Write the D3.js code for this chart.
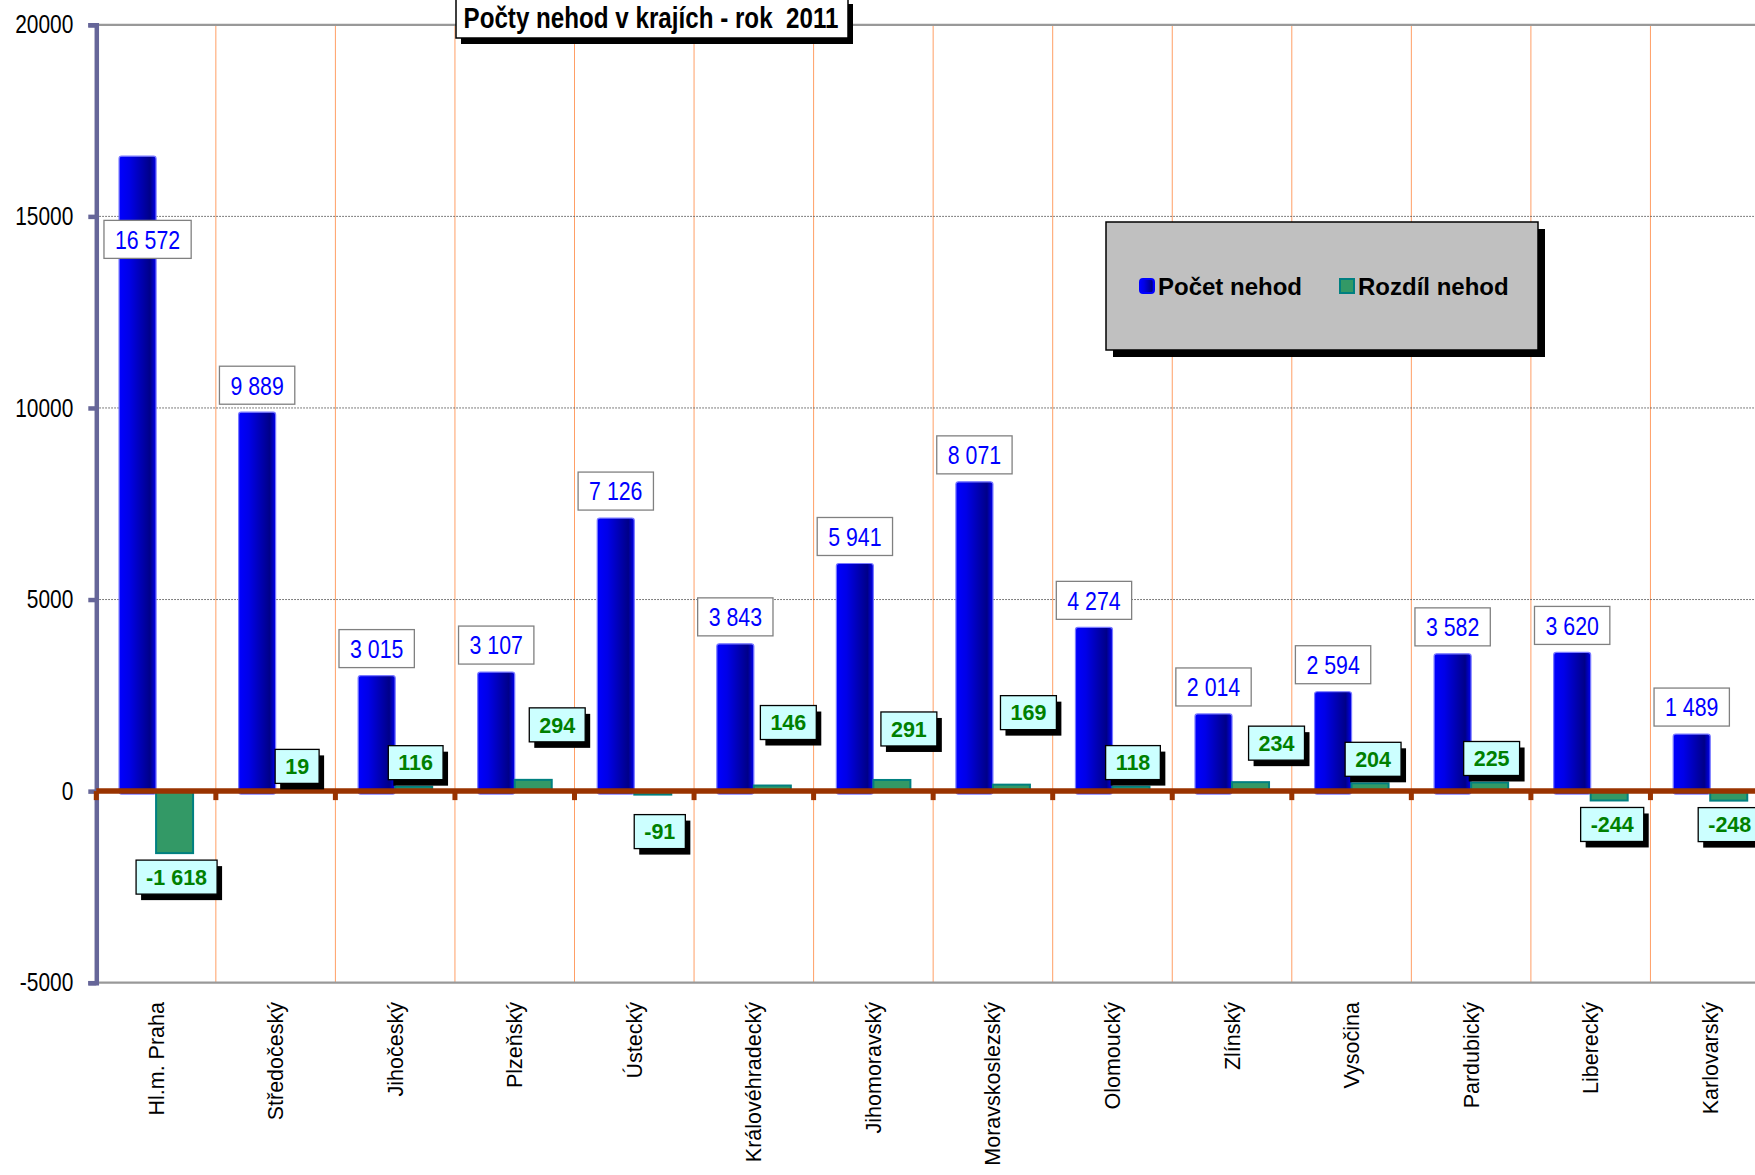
<!DOCTYPE html>
<html>
<head>
<meta charset="utf-8">
<script src="https://cdn.jsdelivr.net/npm/d3@7"></script>
<style>
  html, body { margin: 0; padding: 0; background: #fff; }
  svg { display: block; }
  text { font-family: "Liberation Sans", Arial, sans-serif; }
</style>
</head>
<body>
<svg id="chart" width="1755" height="1175"></svg>
<script>
// ---------------- DATA ----------------
const categories = ["Hl.m. Praha", "Středočeský", "Jihočeský", "Plzeňský", "Ústecký",
  "Královéhradecký", "Jihomoravský", "Moravskoslezský", "Olomoucký", "Zlínský",
  "Vysočina", "Pardubický", "Liberecký", "Karlovarský"];
const pocetNehod = [16572, 9889, 3015, 3107, 7126, 3843, 5941, 8071, 4274, 2014, 2594, 3582, 3620, 1489];
const rozdilNehod = [-1618, 19, 116, 294, -91, 146, 291, 169, 118, 234, 204, 225, -244, -248];
const yTicks = [-5000, 0, 5000, 10000, 15000, 20000];
const seriesNames = ["Počet nehod", "Rozdíl nehod"];
const titleText = "Počty nehod v krajích - rok  2011";

// ---------------- LAYOUT (manually placed data labels, px) ----------------
const countLabelDx = [10, 0, 0, 0, 0, 0, 0, 0, 0, 0, 0, 0, 0, 0];
const diffLabelGap = [24, 24, 24, 55, 37, 63, 51, 72, 24, 39, 24, 24, 24, 24];
const diffLabelDx  = [2, 3, 2, 24, 7, 16, 17, 17, 2, 26, 3, 2, 3, 1];

const NARROW = 0.82; // horizontal condensing to imitate Arial Narrow

const svg = d3.select("#chart");
const W = 1755, H = 1175;
svg.append("rect").attr("width", W).attr("height", H).attr("fill", "#fff");

const x0 = 96.3, step = 119.55;
const x = d3.scaleBand().domain(categories).range([x0, x0 + step * categories.length]).padding(0);
const xs = d3.scaleBand().domain(["p", "r"]).range([0, x.bandwidth()]).paddingInner(0).paddingOuter(0.615);
const y = d3.scaleLinear().domain([-5000, 20000]).range([982.7, 24.8]);

const loc = d3.formatLocale({ decimal: ",", thousands: " ", grouping: [3], currency: ["", ""], minus: "-" });
const fmt = loc.format(",d");
const fmtTick = loc.format("d");

const defs = svg.append("defs");
const g1 = defs.append("linearGradient").attr("id", "blueGrad").attr("x1", "0").attr("x2", "1").attr("y1", "0").attr("y2", "0");
[["0%", "#0000ff"], ["28%", "#0000e8"], ["84%", "#000088"], ["90%", "#0000b0"], ["100%", "#0000f0"]]
  .forEach(([o, c]) => g1.append("stop").attr("offset", o).attr("stop-color", c));

const xEnd = W + 20;

// vertical orange gridlines at category boundaries
svg.append("g").selectAll("line").data(d3.range(1, categories.length + 1))
  .join("line")
  .attr("x1", i => x0 + step * i).attr("x2", i => x0 + step * i)
  .attr("y1", y(20000)).attr("y2", y(-5000))
  .attr("stroke", "#ff9f66").attr("stroke-width", 1);

// horizontal gridlines
svg.append("g").selectAll("line").data([5000, 10000, 15000])
  .join("line")
  .attr("x1", x0).attr("x2", xEnd).attr("y1", d => y(d)).attr("y2", d => y(d))
  .attr("stroke", "#555").attr("stroke-width", 1).attr("stroke-dasharray", "1.5,1.5");
svg.append("line").attr("x1", x0).attr("x2", xEnd).attr("y1", y(20000)).attr("y2", y(20000))
  .attr("stroke", "#999").attr("stroke-width", 2.2);
svg.append("line").attr("x1", x0).attr("x2", xEnd).attr("y1", y(-5000)).attr("y2", y(-5000))
  .attr("stroke", "#999").attr("stroke-width", 2.2);

// y axis
const yAxis = d3.axisLeft(y).tickValues(yTicks).tickSize(8).tickPadding(0).tickFormat(fmtTick);
const ya = svg.append("g").attr("transform", `translate(${x0},0)`).call(yAxis);
ya.select(".domain").attr("stroke", "#666699").attr("stroke-width", 4.5);
ya.selectAll(".tick line").attr("stroke", "#666699").attr("stroke-width", 4.5);
ya.selectAll(".tick text")
  .attr("x", -23 / NARROW)
  .attr("transform", `scale(${NARROW},1)`)
  .attr("font-size", 25.5).attr("fill", "#000");

// blue bars
svg.append("g").selectAll("rect").data(pocetNehod)
  .join("rect")
  .attr("x", (d, i) => x(categories[i]) + xs("p"))
  .attr("width", xs.bandwidth())
  .attr("y", d => y(Math.max(0, d)))
  .attr("height", d => Math.abs(y(d) - y(0)) + 3)
  .attr("rx", 2.5)
  .attr("fill", "url(#blueGrad)").attr("stroke", "#7a7aff").attr("stroke-width", 1.2);

// green bars
svg.append("g").selectAll("rect").data(rozdilNehod)
  .join("rect")
  .attr("x", (d, i) => x(categories[i]) + xs("r"))
  .attr("width", xs.bandwidth())
  .attr("y", d => y(Math.max(0, d)))
  .attr("height", d => Math.abs(y(d) - y(0)))
  .attr("fill", "#339966").attr("stroke", "#008080").attr("stroke-width", 2);

// zero axis (brown) with ticks at category boundaries
const xa = svg.append("g");
xa.append("line").attr("x1", x0).attr("x2", xEnd).attr("y1", y(0)).attr("y2", y(0))
  .attr("stroke", "#993300").attr("stroke-width", 5.5);
xa.selectAll("rect.tk").data(d3.range(categories.length + 1))
  .join("rect").attr("class", "tk")
  .attr("x", i => x0 + step * i - 2.5).attr("y", y(0)).attr("width", 5).attr("height", 9)
  .attr("fill", "#993300");

// category labels
svg.append("g").selectAll("text").data(categories)
  .join("text")
  .attr("transform", d => `translate(${x(d) + x.bandwidth() / 2},1002) rotate(-90)`)
  .attr("text-anchor", "end").attr("dy", "0.35em")
  .attr("font-size", 21.5).attr("fill", "#000")
  .text(d => d);

// blue value labels
const bl = svg.append("g").selectAll("g").data(pocetNehod).join("g")
  .attr("transform", (d, i) => {
    const cx = x(categories[i]) + xs("p") + xs.bandwidth() / 2 + countLabelDx[i];
    const cy = Math.max(y(d) - 27, y(15000) + 23);
    return `translate(${cx},${cy})`;
  });
bl.append("text").attr("text-anchor", "middle").attr("dy", "0.36em")
  .attr("transform", `scale(${NARROW},1)`)
  .attr("font-size", 26).attr("fill", "#0000ff")
  .text(d => fmt(d));
bl.each(function () {
  const g = d3.select(this);
  const bb = g.select("text").node().getBBox();
  const w = bb.width * NARROW + 22, h = 38;
  g.insert("rect", "text").attr("x", -w / 2).attr("y", -h / 2).attr("width", w).attr("height", h)
    .attr("fill", "#fff").attr("stroke", "#808080").attr("stroke-width", 1.3);
});

// green value labels
const gl = svg.append("g").selectAll("g").data(rozdilNehod).join("g")
  .attr("transform", (d, i) => {
    const cx = x(categories[i]) + xs("r") + xs.bandwidth() / 2 + diffLabelDx[i];
    const cy = d >= 0 ? y(d) - diffLabelGap[i] : y(d) + diffLabelGap[i];
    return `translate(${cx},${cy})`;
  });
gl.append("text").attr("text-anchor", "middle").attr("dy", "0.36em")
  .attr("font-size", 21.5).attr("font-weight", "bold").attr("fill", "#008000")
  .text(d => fmt(d));
gl.each(function () {
  const g = d3.select(this);
  const bb = g.select("text").node().getBBox();
  const w = bb.width + 20, h = 34;
  g.insert("rect", "text").attr("x", -w / 2 + 5).attr("y", -h / 2 + 6).attr("width", w).attr("height", h)
    .attr("fill", "#000");
  g.insert("rect", "text").attr("x", -w / 2).attr("y", -h / 2).attr("width", w).attr("height", h)
    .attr("fill", "#ccffff").attr("stroke", "#000").attr("stroke-width", 1.3);
});

// legend
const lg = svg.append("g");
const lx = 1106, ly = 222, lw = 432, lh = 128;
lg.append("rect").attr("x", lx + 7).attr("y", ly + 7).attr("width", lw).attr("height", lh).attr("fill", "#000");
lg.append("rect").attr("x", lx).attr("y", ly).attr("width", lw).attr("height", lh)
  .attr("fill", "#c0c0c0").attr("stroke", "#000").attr("stroke-width", 1.5);
const legendItems = [
  { name: seriesNames[0], mx: 1140, fill: "url(#blueGrad)", stroke: "#0000ff", rx: 3 },
  { name: seriesNames[1], mx: 1340, fill: "#339966", stroke: "#008080", rx: 0 }
];
const li = lg.selectAll("g.li").data(legendItems).join("g").attr("class", "li");
li.append("rect").attr("x", d => d.mx).attr("y", 279).attr("width", 14).attr("height", 14)
  .attr("rx", d => d.rx).attr("fill", d => d.fill).attr("stroke", d => d.stroke).attr("stroke-width", 2);
li.append("text").attr("x", d => d.mx + 18).attr("y", 286).attr("dy", "0.36em")
  .attr("font-size", 24).attr("font-weight", "bold").attr("fill", "#000")
  .text(d => d.name);

// title
const tg = svg.append("g");
tg.append("rect").attr("x", 461).attr("y", 4).attr("width", 392).attr("height", 40).attr("fill", "#000");
tg.append("rect").attr("x", 456).attr("y", -2).attr("width", 392).attr("height", 40)
  .attr("fill", "#fff").attr("stroke", "#000").attr("stroke-width", 1.5);
tg.append("g").attr("transform", `translate(651,28) scale(${NARROW},1)`)
  .append("text").attr("x", 0).attr("y", 0).attr("text-anchor", "middle")
  .attr("xml:space", "preserve").style("white-space", "pre")
  .attr("font-size", 29.5).attr("font-weight", "bold").attr("fill", "#000")
  .text(titleText);
</script>
</body>
</html>
